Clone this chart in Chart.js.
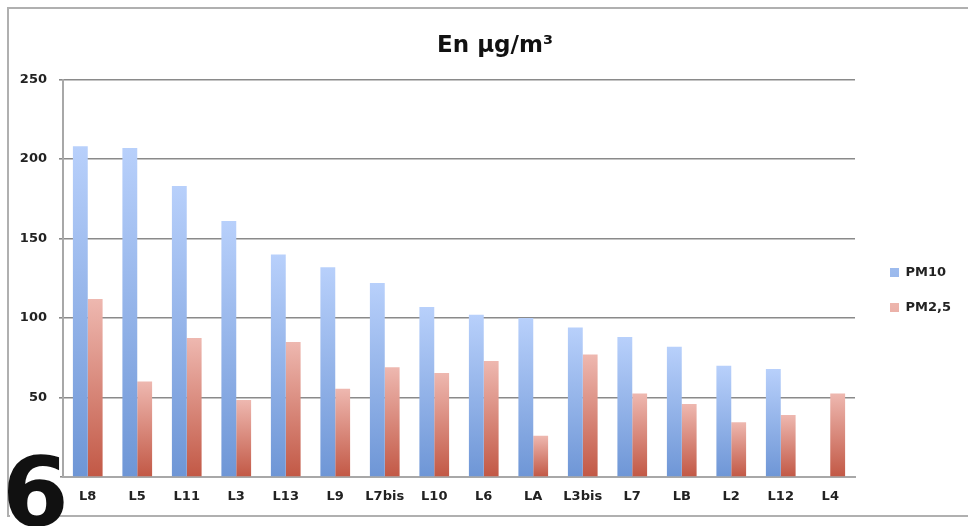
<!DOCTYPE html>
<html>
<head>
<meta charset="utf-8">
<script src="https://cdn.jsdelivr.net/npm/chart.js@4"></script>
<style>
  html, body { margin: 0; padding: 0; background: #fff; }
  body { width: 968px; height: 526px; position: relative; overflow: hidden; }
  #frame { position: absolute; left: 7px; top: 7px; width: 975px; height: 510px; border: 2px solid #b0b0b0; box-sizing: border-box; }
  #wrap { position: absolute; left: 0; top: 0; width: 968px; height: 526px; }
  #patch { position: absolute; left: 10px; top: 458px; width: 50px; height: 68px; background: #fff; z-index: 4; }
  #six { position: absolute; left: 2px; top: 445px; font-family: "DejaVu Sans"; font-weight: bold; font-size: 96px; line-height: 96px; color: #111; z-index: 5; }
</style>
</head>
<body>
<div id="frame"></div>
<div id="wrap"><canvas id="chart" width="968" height="526"></canvas></div>
<div id="patch"></div>
<div id="six">6</div>
<script>
const categories = ["L8", "L5", "L11", "L3", "L13", "L9", "L7bis", "L10", "L6", "LA", "L3bis", "L7", "LB", "L2", "L12", "L4"];
const pm10 = [208, 207, 183, 161, 140, 132, 122, 107, 102, 100, 94, 88, 82, 70, 68, null];
const pm25 = [112, 60, 87.5, 48.5, 85, 55.5, 69, 65.5, 73, 26, 77, 52.5, 46, 34.5, 39, 52.5];
const yTicks = [0, 50, 100, 150, 200, 250];

function barGradient(top, bottom) {
    return function (ctx) {
        const chart = ctx.chart;
        const y = chart.scales && chart.scales.y;
        if (!chart.chartArea || !y || ctx.raw == null || ctx.type !== 'data') {
            return bottom;
        }
        const yTop = y.getPixelForValue(ctx.raw);
        const yBot = y.getPixelForValue(0);
        const g = chart.ctx.createLinearGradient(0, yTop, 0, yBot);
        g.addColorStop(0, top);
        g.addColorStop(1, bottom);
        return g;
    };
}

// small position tweaks for title and legend after chart layout
const nudge = {
    id: 'nudge',
    afterLayout(chart) {
        const lg = chart.legend;
        if (lg) {
            lg.left += 13; lg.right += 13;
            lg.top += 11; lg.bottom += 11;
        }
        const tb = chart.titleBlock;
        if (tb) {
            tb.left += 21; tb.right += 21;
        }
    }
};

const labelFont = { family: 'DejaVu Sans', size: 13, weight: 'bold' };

const canvas = document.getElementById("chart");
new Chart(canvas.getContext("2d"), {
    type: 'bar',
    data: {
        labels: categories,
        datasets: [{
            label: 'PM10',
            data: pm10,
            backgroundColor: barGradient('#b8d0fb', '#6e96d6'),
            borderWidth: 0
        }, {
            label: 'PM2,5',
            data: pm25,
            backgroundColor: barGradient('#eeb8b0', '#c25845'),
            borderWidth: 0
        }]
    },
    options: {
        responsive: false,
        animation: false,
        devicePixelRatio: 1,
        layout: { padding: { left: 0, right: 20, top: 32, bottom: 0 } },
        datasets: {
            bar: { barPercentage: 1.0, categoryPercentage: 0.6 }
        },
        scales: {
            x: {
                grid: { display: false, drawTicks: false },
                border: { color: '#a8a8a8', width: 2 },
                ticks: { color: '#222', font: labelFont, padding: 12, maxRotation: 0, autoSkip: false },
                afterFit: (scale) => { scale.height = 49; }
            },
            y: {
                min: 0,
                max: 250,
                afterBuildTicks: (scale) => { scale.ticks = yTicks.map(v => ({ value: v })); },
                grid: { color: '#8a8a8a', lineWidth: 1.6, tickLength: 4 },
                border: { color: '#a8a8a8', width: 2 },
                ticks: { color: '#222', font: labelFont, padding: 12 },
                afterFit: (scale) => { scale.width = 63; }
            }
        },
        plugins: {
            title: {
                display: true,
                text: 'En µg/m³',
                color: '#111',
                font: { family: 'DejaVu Sans', size: 23, weight: 'bold' },
                padding: { top: 0, bottom: 20 }
            },
            legend: {
                position: 'right',
                labels: {
                    boxWidth: 9,
                    boxHeight: 9,
                    padding: 22,
                    color: '#222',
                    font: labelFont
                }
            },
            tooltip: { enabled: false }
        }
    },
    plugins: [nudge]
});
</script>
</body>
</html>
